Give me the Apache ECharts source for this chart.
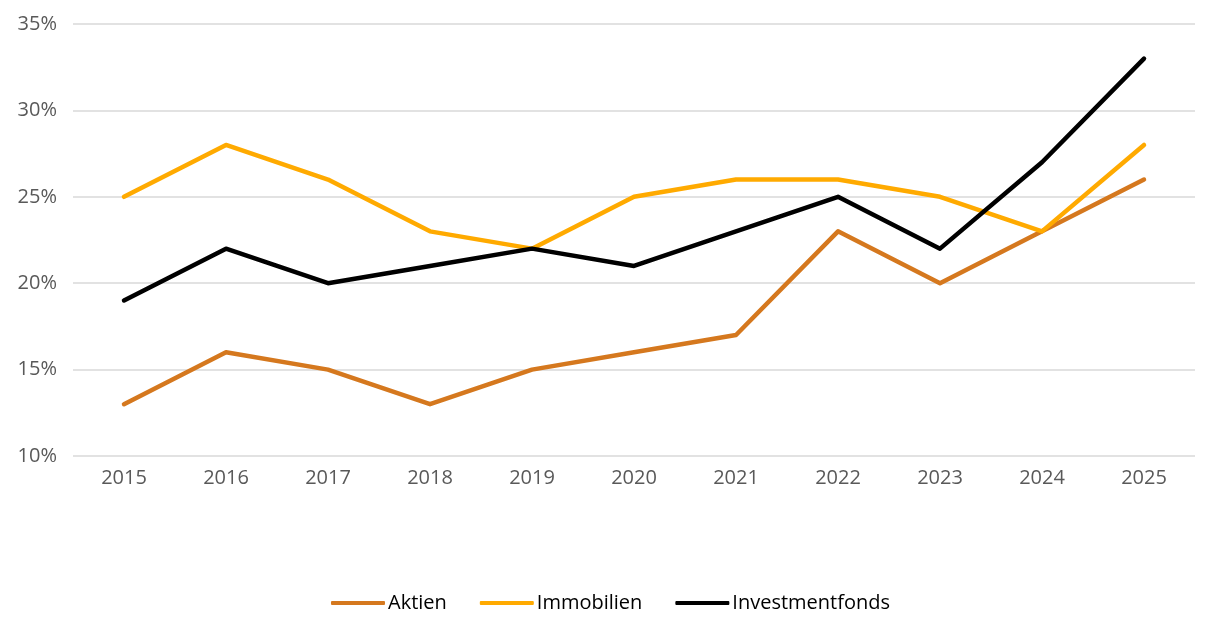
<!DOCTYPE html>
<html><head><meta charset="utf-8">
<script src="https://cdn.jsdelivr.net/npm/echarts@6/dist/echarts.min.js"></script>
<style>html,body{margin:0;padding:0;background:#fff}#c{width:1221px;height:633px}</style>
</head><body><div id="c"></div>
<script>
const years = ['2015','2016','2017','2018','2019','2020','2021','2022','2023','2024','2025'];
const aktien = [13,16,15,13,15,16,17,23,20,23,26];
const immobilien = [25,28,26,23,22,25,26,26,25,23,28];
const investmentfonds = [19,22,20,21,22,21,23,25,22,27,33];
const seriesNames = ['Aktien','Immobilien','Investmentfonds'];
const colors = ['#D5781E','#FFAA00','#000000'];
const font = 'Open Sans';
const chart = echarts.init(document.getElementById('c'));
const mk = (name, data, color) => ({
  name, type:'line', data, symbol:'none', smooth:false,
  lineStyle:{width:4.5, color, cap:'round', join:'round'}, itemStyle:{color}
});
chart.setOption({
  animation:false,
  grid:{left:73, right:26, top:24, height:432},
  xAxis:{type:'category', data:years, boundaryGap:true,
    axisLine:{show:false}, axisTick:{show:false},
    axisLabel:{color:'#595959', fontSize:20, fontFamily:font, margin:12}},
  yAxis:{type:'value', min:10, max:35, interval:5,
    axisLine:{show:false}, axisTick:{show:false},
    splitLine:{lineStyle:{color:'#D9D9D9', width:1.5}},
    axisLabel:{formatter:'{value}%', color:'#595959', fontSize:20, fontFamily:font, margin:16}},
  legend:{bottom:15, left:'center', itemWidth:54, itemHeight:4, itemGap:33,
    icon:'roundRect',
    textStyle:{color:'#000', fontSize:20, fontFamily:font, padding:[0,0,0,-2]},
    data:seriesNames},
  series:[mk(seriesNames[0],aktien,colors[0]), mk(seriesNames[1],immobilien,colors[1]), mk(seriesNames[2],investmentfonds,colors[2])]
});
</script></body></html>
